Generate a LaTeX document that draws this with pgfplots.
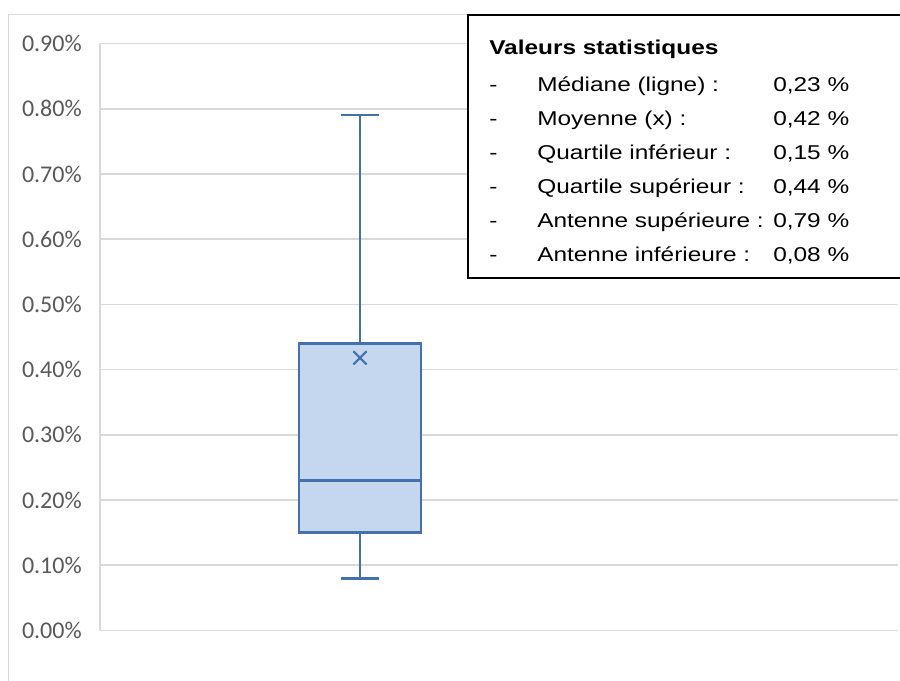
\documentclass[border=0pt]{standalone}
\usepackage{pgfplots}
\pgfplotsset{compat=1.18}
\usepgfplotslibrary{statistics}
\usepackage{fontspec}
\setmainfont{Liberation Sans}
\newfontfamily\ticksfont{Carlito}
\newfontfamily\legfont[FakeStretch=1.22]{Liberation Sans}
\definecolor{gridgray}{RGB}{217,217,217}
\definecolor{ticktext}{RGB}{89,89,89}
\definecolor{boxblue}{RGB}{68,112,172}
\definecolor{boxfill}{RGB}{197,215,239}
\begin{document}
\begin{tikzpicture}
\useasboundingbox (0pt,0pt) rectangle (675pt,510.75pt);
\begin{scope}[x=0.75pt,y=0.75pt]
\fill[white] (0,0) rectangle (900,681);
\draw[gridgray, line width=0.9pt] (8.3,-10) -- (8.3,666.3) -- (910,666.3);
\end{scope}
\begin{axis}[
  at={(75pt,37.875pt)}, anchor=south west,
  scale only axis,
  width=598.5pt, height=440.25pt,
  xmin=0, xmax=1,
  ymin=0, ymax=0.9,
  ytick={0,0.1,0.2,0.3,0.4,0.5,0.6,0.7,0.8,0.9},
  axis x line=none,
  axis y line=left,
  y axis line style={-, gridgray, line width=1.25pt},
  ymajorgrids,
  grid style={gridgray, line width=1.25pt},
  major tick length=0pt,
  ytick style={draw=none},
  yticklabel={\pgfmathprintnumber[assume math mode=true,fixed,fixed zerofill,precision=2]{\tick}\%},
  yticklabel style={font=\ticksfont\fontsize{18}{20}\selectfont, text=ticktext, anchor=east, inner sep=0pt, xshift=-13.5pt},
  clip=false,
  boxplot/draw direction=y,
  boxplot/every box/.style={draw=boxblue, fill=boxfill, line width=1.8pt},
  boxplot/every whisker/.style={draw=boxblue, line width=1.8pt},
  boxplot/every median/.style={draw=boxblue, line width=1.8pt},
]
\addplot+[boxplot prepared={draw position=0.3258, lower whisker=0.08, lower quartile=0.15, median=0.23, upper quartile=0.44, upper whisker=0.79, box extend=0.1535, whisker extend=0.0464},
  draw=boxblue, fill=boxfill, line width=1.8pt, solid, mark=none] coordinates {};
\addplot[only marks, mark=x, mark size=7pt, boxblue, line width=1.5pt] coordinates {(0.3258,0.418)};
\end{axis}
\begin{scope}[x=0.75pt,y=0.75pt]
\draw[black, line width=1.5pt, fill=white] (468,666) rectangle (906,403);
\begin{scope}[every node/.style={anchor=base west, inner sep=0pt, font=\legfont\fontsize{15}{18}\selectfont}]
\node at (489,626) {\bfseries Valeurs statistiques};
\node at (489,589) {-}; \node at (537,589) {Médiane (ligne) :}; \node at (773,589) {0,23 \%};
\node at (489,555) {-}; \node at (537,555) {Moyenne (x) :}; \node at (773,555) {0,42 \%};
\node at (489,521) {-}; \node at (537,521) {Quartile inférieur :}; \node at (773,521) {0,15 \%};
\node at (489,487) {-}; \node at (537,487) {Quartile supérieur :}; \node at (773,487) {0,44 \%};
\node at (489,453) {-}; \node at (537,453) {Antenne supérieure :}; \node at (773,453) {0,79 \%};
\node at (489,419) {-}; \node at (537,419) {Antenne inférieure :}; \node at (773,419) {0,08 \%};
\end{scope}
\end{scope}
\end{tikzpicture}
\end{document}
